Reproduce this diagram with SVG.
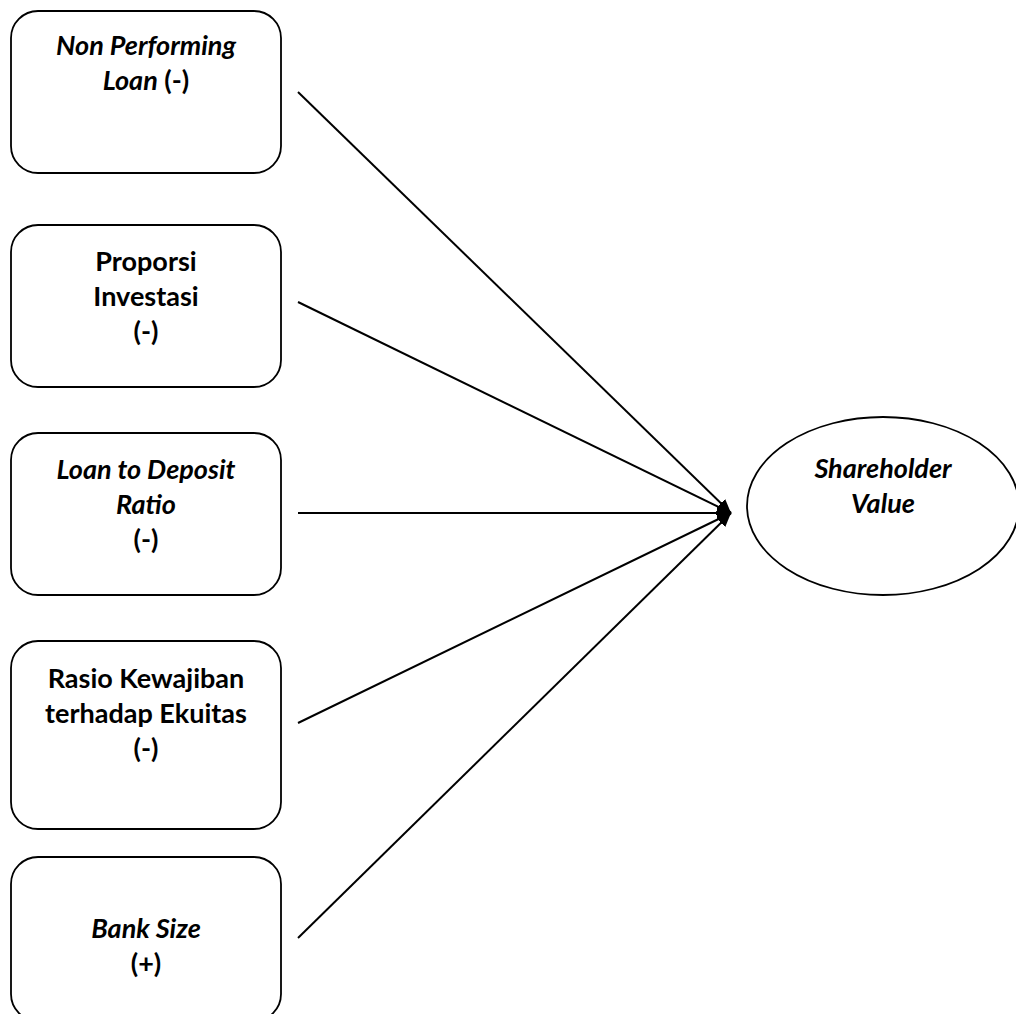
<svg xmlns="http://www.w3.org/2000/svg" width="1016" height="1014" viewBox="0 0 1016 1014">
<style>
.box{fill:#fff;stroke:#000;stroke-width:1.8}
.t{font-family:Lato,"Open Sans","Liberation Sans",sans-serif;font-size:27px;font-weight:bold;text-anchor:middle;fill:#000}
.i{font-style:italic}
.c{stroke:#000;stroke-width:2;fill:none;marker-end:url(#ah)}
</style>
<defs>
<marker id="ah" viewBox="0 0 14 12" refX="14" refY="6" markerWidth="14" markerHeight="12" markerUnits="userSpaceOnUse" orient="auto">
<path d="M0,0 L14,6 L0,12 Z" fill="#000"/>
</marker>
</defs>
<rect width="1016" height="1014" fill="#fff"/>
<g id="connectors">
<line class="c" x1="298" y1="92" x2="731" y2="513"/>
<line class="c" x1="298" y1="302" x2="731" y2="513"/>
<line class="c" x1="298" y1="513" x2="731" y2="513"/>
<line class="c" x1="298" y1="723" x2="731" y2="513"/>
<line class="c" x1="298" y1="938" x2="731" y2="513"/>
</g>
<g id="npl">
<rect class="box" x="11" y="11" width="270" height="162" rx="27"/>
<text class="t i" x="146" y="55">Non Performing</text>
<text class="t" x="146" y="90"><tspan class="i">Loan</tspan> (-)</text>
</g>
<g id="proporsi">
<rect class="box" x="11" y="225" width="270" height="162" rx="27"/>
<text class="t" x="146" y="271">Proporsi</text>
<text class="t" x="146" y="306">Investasi</text>
<text class="t" x="146" y="341">(-)</text>
</g>
<g id="ldr">
<rect class="box" x="11" y="433" width="270" height="162" rx="27"/>
<text class="t i" x="146" y="479">Loan to Deposit</text>
<text class="t i" x="146" y="514">Ratio</text>
<text class="t" x="146" y="549">(-)</text>
</g>
<g id="der">
<rect class="box" x="11" y="641" width="270" height="188" rx="27"/>
<text class="t" x="146" y="688">Rasio Kewajiban</text>
<text class="t" x="146" y="723">terhadap Ekuitas</text>
<text class="t" x="146" y="758">(-)</text>
</g>
<g id="size">
<rect class="box" x="11" y="857" width="270" height="164" rx="27"/>
<text class="t i" x="146" y="938">Bank Size</text>
<text class="t" x="146" y="973">(+)</text>
</g>
<g id="sv">
<ellipse class="box" cx="883" cy="506" rx="136" ry="89"/>
<text class="t i" x="883" y="478">Shareholder</text>
<text class="t i" x="883" y="513">Value</text>
</g>
</svg>
